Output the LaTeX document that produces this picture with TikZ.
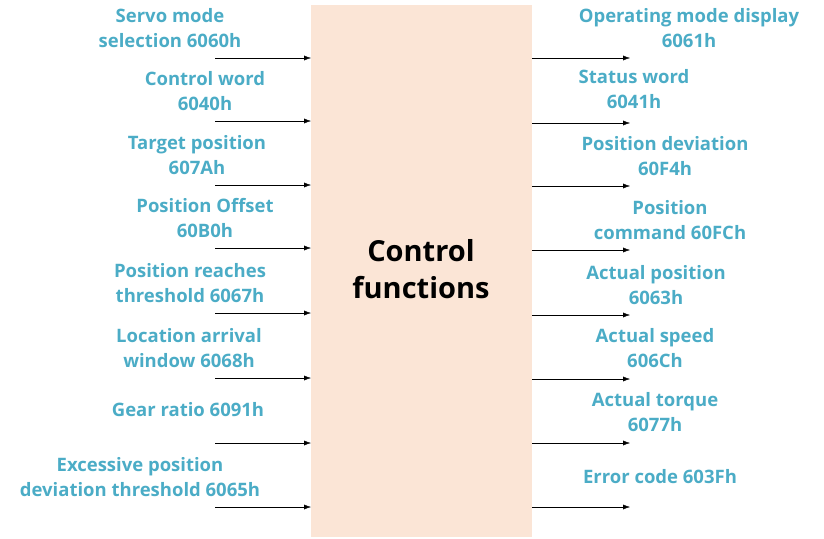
\documentclass[tikz,border=0pt]{standalone}
\usepackage{fontspec}
\setmainfont{Open Sans}
\usetikzlibrary{arrows.meta}
\definecolor{labelcol}{HTML}{4BACC6}
\definecolor{boxfill}{HTML}{FBE5D6}

\begin{document}
\begin{tikzpicture}[x=1pt,y=-1pt,
  sig/.style={-{Latex[length=7pt,width=5pt]},black},
  lbl/.style={text=labelcol,font=\fontsize{18.5}{25}\selectfont\bfseries,align=center,inner sep=0pt}]

\useasboundingbox (0,0) rectangle (824,538);

% Central block
\fill[boxfill] (311,5) rectangle (532,537);
\node[font=\fontsize{29}{37}\selectfont\bfseries,align=center] (ctrl) at (421,269) {Control\\functions};

% Inputs
\foreach \y/\cx/\ty/\txt/\n in {58/170/28/{Servo mode\\selection 6060h}/a,
  121/205/91/{Control word\\6040h}/b,
  185/197/155/{Target position\\607Ah}/c,
  248/205/218/{Position Offset\\60B0h}/d,
  313/190/283/{Position reaches\\threshold 6067h}/e,
  378/189/348/{Location arrival\\window 6068h}/f,
  443/188/410/{Gear ratio 6091h}/g,
  507/140/477/{Excessive position\\deviation threshold 6065h}/h}
{
  \node[lbl] (in\n) at (\cx,\ty) {\txt};
  \coordinate (ins\n) at (215,\y);
  \coordinate (ine\n) at (311,\y);
  \draw[sig] (ins\n) -- (ine\n);
}

% Outputs
\foreach \y/\cx/\ty/\txt/\n in {58/689/28/{Operating mode display\\6061h}/a,
  123/634/89/{Status word\\6041h}/b,
  186/665/156/{Position deviation\\60F4h}/c,
  250/670/220/{Position\\command 60FCh}/d,
  315/656/285/{Actual position\\6063h}/e,
  379/655/348/{Actual speed\\606Ch}/f,
  443/655/412/{Actual torque\\6077h}/g,
  507/660/477/{Error code 603Fh}/h}
{
  \node[lbl] (out\n) at (\cx,\ty) {\txt};
  \coordinate (outs\n) at (532,\y);
  \coordinate (oute\n) at (630,\y);
  \draw[sig] (outs\n) -- (oute\n);
}

\end{tikzpicture}
\end{document}
